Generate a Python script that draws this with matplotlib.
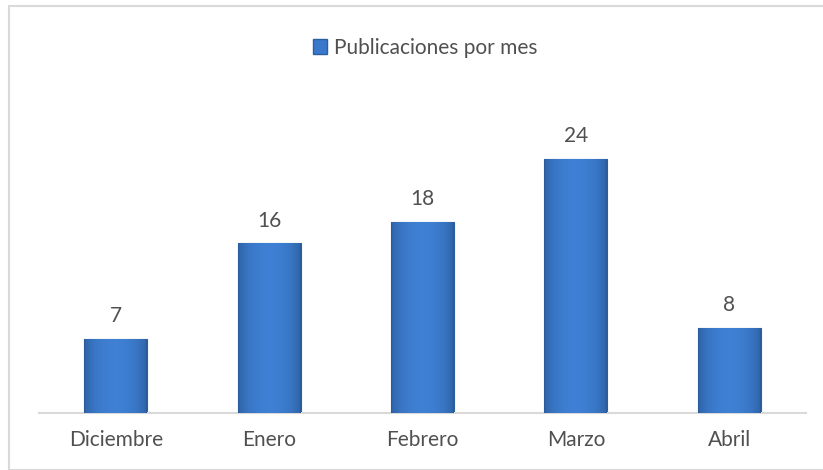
import numpy as np
import matplotlib.pyplot as plt
from matplotlib.patches import Rectangle
from matplotlib.colors import LinearSegmentedColormap

meses = ["Diciembre", "Enero", "Febrero", "Marzo", "Abril"]
publicaciones = [7, 16, 18, 24, 8]
serie = "Publicaciones por mes"

plt.rcParams['font.family'] = ['Lato', 'DejaVu Sans']
gris = '#505050'

fig = plt.figure(figsize=(8.23, 4.70), dpi=100)
W, H = 823, 470
ax = fig.add_axes([39 / W, 1 - 413 / H, (806 - 39) / W, (413 - 95) / H])

x = np.arange(len(meses))
barras = ax.bar(x, publicaciones, width=0.41, color='#3a78cc',
                edgecolor='#2c5f9e', linewidth=0.8, label=serie, zorder=2)

# degradado horizontal en cada barra (borde oscuro, centro claro)
t = np.linspace(0, 1, 64)
perfil = 0.55 + 0.45 * np.sin(np.pi * t) ** 0.5
grad = np.outer(np.ones(2), perfil)
cmap = LinearSegmentedColormap.from_list('azul', ['#2a5c9c', '#3f80d4'])
for b in barras:
    x0, y0 = b.get_x(), b.get_y()
    img = ax.imshow(grad, cmap=cmap, vmin=0.55, vmax=1, aspect='auto',
                    extent=[x0, x0 + b.get_width(), y0, y0 + b.get_height()], zorder=3)
    img.set_clip_path(b)

for xi, v in zip(x, publicaciones):
    ax.text(xi, v + 1.2, str(v), ha='center', va='bottom', fontsize=15, color=gris)

ax.set_xlim(-0.5, len(meses) - 0.5)
ax.set_ylim(0, 30)
ax.set_xticks(x)
ax.set_xticklabels(meses, fontsize=15, color=gris)
ax.tick_params(axis='x', length=0, pad=12)
ax.set_yticks([])
for s in ['top', 'right', 'left']:
    ax.spines[s].set_visible(False)
ax.spines['bottom'].set_color('#d9d9d9')
ax.spines['bottom'].set_linewidth(1.5)

leg = fig.legend(handles=[Rectangle((0, 0), 1, 1, facecolor='#3a78cc', edgecolor='#2c5f9e')],
                 labels=[serie], loc='center', bbox_to_anchor=(425 / W, 1 - 48 / H),
                 frameon=False, fontsize=15, handlelength=0.7, handleheight=0.7,
                 handletextpad=0.3)
for txt in leg.get_texts():
    txt.set_color(gris)

fig.patches.append(Rectangle((9 / W, 0), 1, 1 - 6 / H, transform=fig.transFigure,
                             fill=False, edgecolor='#d9d9d9', linewidth=1.5))

fig.savefig('out.png', dpi=100)
